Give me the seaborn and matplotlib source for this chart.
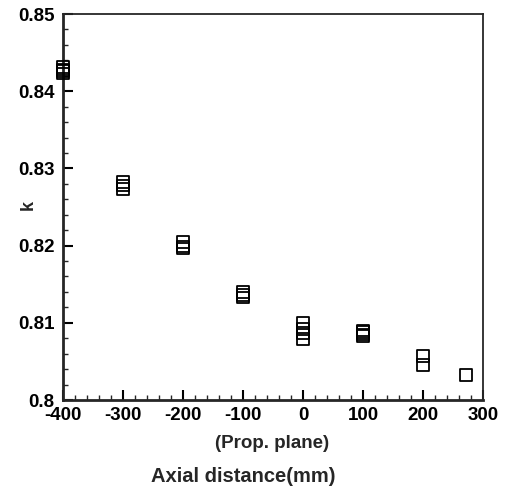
import numpy as np
import pandas as pd
import matplotlib
matplotlib.use("Agg")
import matplotlib.pyplot as plt
import matplotlib.ticker as mticker
import seaborn as sns

# --- data ---
positions = [-400, -300, -200, -100, 0, 100, 200, 272]
k_values = [
    [0.8431, 0.8428, 0.8426, 0.8423],
    [0.8282, 0.8278, 0.8273],
    [0.8205, 0.8199, 0.8196],
    [0.8140, 0.8136, 0.8133],
    [0.8100, 0.8092, 0.8087, 0.8079],
    [0.8090, 0.8088, 0.8085, 0.8083],
    [0.8057, 0.8045],
    [0.8032],
]
x_ticks = [-400, -300, -200, -100, 0, 100, 200, 300]
y_ticks = [0.80, 0.81, 0.82, 0.83, 0.84, 0.85]

rows = [(x, k) for x, ks in zip(positions, k_values) for k in ks]
df = pd.DataFrame(rows, columns=["x", "k"])

sns.set_style("ticks")
plt.rcParams["font.family"] = ["Liberation Sans", "DejaVu Sans"]
plt.rcParams["font.weight"] = "bold"
plt.rcParams["axes.unicode_minus"] = False

fig = plt.figure(figsize=(5.15, 4.88), dpi=100)
ax = fig.add_axes([63 / 515, 1 - 400 / 488, (483 - 63) / 515, (400 - 14) / 488])

sns.scatterplot(
    data=df, x="x", y="k", ax=ax, marker="s", s=70, clip_on=False, zorder=3,
    facecolors="none", edgecolor="black", linewidth=1.3, legend=False,
)

ax.set_xlim(-400, 300)
ax.set_ylim(0.80, 0.85)
ax.set_xticks(x_ticks)
ax.set_yticks(y_ticks)
ax.xaxis.set_minor_locator(mticker.MultipleLocator(20))
ax.yaxis.set_minor_locator(mticker.MultipleLocator(0.002))
ax.yaxis.set_major_formatter(mticker.FuncFormatter(lambda v, p: f"{v:g}"))

ax.tick_params(axis="both", which="major", direction="in", length=7, width=1.5,
               labelsize=13.5, colors="black")
ax.tick_params(axis="both", which="minor", direction="in", length=3.5, width=1.0)
ax.tick_params(axis="x", which="major", pad=5)
ax.tick_params(axis="y", which="major", pad=6)
for lbl in ax.get_xticklabels() + ax.get_yticklabels():
    lbl.set_fontweight("bold")

for side in ["left", "bottom"]:
    ax.spines[side].set_linewidth(2.0)
for side in ["top", "right"]:
    ax.spines[side].set_linewidth(1.3)

ax.set_xlabel("")
ax.set_ylabel("k", fontsize=13, fontweight="bold")
ax.yaxis.set_label_coords(-0.062, 0.506)

fig.text(272 / 515, 1 - 443 / 488, "(Prop. plane)", ha="center", va="center",
         fontsize=13.5, fontweight="bold")
fig.text(243 / 515, 1 - 477 / 488, "Axial distance(mm)", ha="center", va="center",
         fontsize=14.5, fontweight="bold")

fig.savefig("out.png", dpi=100)
